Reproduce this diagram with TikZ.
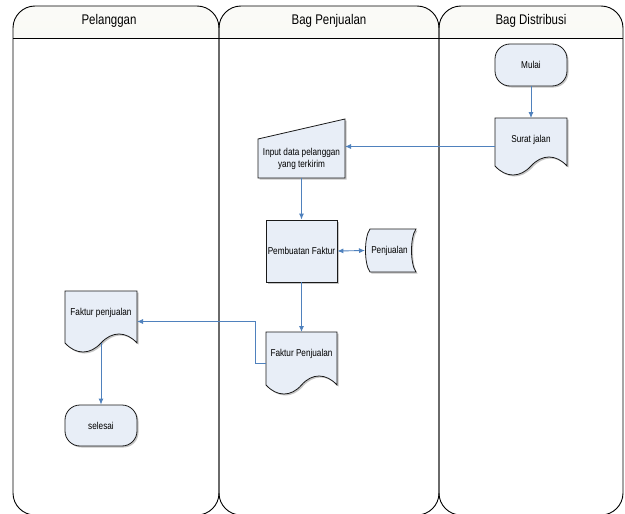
\documentclass[tikz,border=0pt]{standalone}
\usepackage{fontspec}
\setmainfont[FakeStretch=0.82]{Liberation Sans}
\usetikzlibrary{calc,arrows.meta,shadows}

\definecolor{shapefill}{HTML}{E8EEF7}
\definecolor{hdrtop}{HTML}{FAFAF7}
\definecolor{hdrbot}{HTML}{EEF0E6}
\definecolor{connblue}{HTML}{4F81BD}
\definecolor{outline}{HTML}{1A1A1A}

\newcommand\docpath[1]{%
  \path[shp] (#1.north west) -- (#1.north east) -- ($(#1.south east)+(0,-9)$)
    .. controls ($(#1.south east)+(-11,-21)$) and ($(#1.south east)+(-25,-21)$) .. ($(#1.south)+(0,-9)$)
    .. controls ($(#1.south west)+(25,3)$) and ($(#1.south west)+(11,3)$) .. ($(#1.south west)+(0,-9)$)
    -- cycle;}

\begin{document}
\begin{tikzpicture}[x=1pt,y=-1pt,
  lane/.style={draw=black, line width=0.9pt, rounded corners=22},
  hdr/.style={font=\fontsize{14}{16}\selectfont, inner sep=0},
  lbl/.style={font=\fontsize{10}{12}\selectfont, align=center, inner sep=0},
  holder/.style={inner sep=0, outer sep=0},
  shp/.style={draw=outline, line width=0.8pt, fill=shapefill,
    drop shadow={shadow xshift=1.5pt, shadow yshift=-1.5pt, fill=black!45, opacity=0.5}},
  conn/.style={draw=connblue, line width=0.9pt, -{Latex[length=6pt,width=5pt]}},
  conntwo/.style={draw=connblue, line width=0.9pt, {Latex[length=6pt,width=5pt]}-{Latex[length=6pt,width=5pt]}},
]
\useasboundingbox (0,0) rectangle (625,514);
\fill[white] (0,0) rectangle (625,514);

% lane headers
\begin{scope}
  \clip (0,0) rectangle (625,38);
  \shade[top color=hdrtop, bottom color=hdrbot, rounded corners=22] (13,6) rectangle (219,515);
  \shade[top color=hdrtop, bottom color=hdrbot, rounded corners=22] (219,6) rectangle (439,515);
  \shade[top color=hdrtop, bottom color=hdrbot, rounded corners=22] (439,6) rectangle (623,515);
\end{scope}
% lanes
\draw[lane] (13,6) rectangle (219,515);
\draw[lane] (219,6) rectangle (439,515);
\draw[lane] (439,6) rectangle (623,515);
\draw[line width=0.9pt] (13,38) -- (623,38);

\node[hdr] (h1) at (109,21) {Pelanggan};
\node[hdr] (h2) at (329,21) {Bag Penjualan};
\node[hdr] (h3) at (531,21) {Bag Distribusi};

% Mulai
\node[shp, lbl, rounded corners=15, minimum width=72, minimum height=42] (mulai) at (531,65) {Mulai};

% Surat jalan (document)
\node[holder, minimum width=72, minimum height=57] (sj) at (531,146.5) {};
\docpath{sj}
\node[lbl] (sjt) at ($(sj.north)+(0,22)$) {Surat jalan};

% Input data (manual input)
\node[holder, minimum width=87, minimum height=39] (inp) at (301.5,158.5) {};
\path[shp] (inp.south west) -- (inp.north west) -- ($(inp.north east)+(0,-20)$) -- (inp.south east) -- cycle;
\node[lbl] (inpt) at (inp) {Input data pelanggan\\yang terkirim};

% Pembuatan Faktur
\node[shp, lbl, minimum width=71, minimum height=62] (pf) at (301.5,251) {Pembuatan Faktur};

% Penjualan (stored data)
\node[holder, minimum width=51, minimum height=43] (pj) at (390.5,250.5) {};
\path[shp] ($(pj.north west)+(5,0)$) -- (pj.north east)
   .. controls ($(pj.north east)+(-6,8)$) and ($(pj.south east)+(-6,-8)$) .. (pj.south east)
   -- ($(pj.south west)+(5,0)$)
   .. controls ($(pj.south west)+(-1,-8)$) and ($(pj.north west)+(-1,8)$) .. ($(pj.north west)+(5,0)$)
   -- cycle;
\node[lbl] (pjt) at ($(pj)+(-1,0)$) {Penjualan};

% Faktur Penjualan (middle document)
\node[holder, minimum width=71, minimum height=62] (fpm) at (301.5,363) {};
\docpath{fpm}
\node[lbl] (fpmt) at ($(fpm.north)+(0,22)$) {Faktur Penjualan};

% Faktur penjualan (left document)
\node[holder, minimum width=72, minimum height=61] (fpl) at (101,321.5) {};
\docpath{fpl}
\node[lbl] (fplt) at ($(fpl.north)+(0,22)$) {Faktur penjualan};

% selesai
\node[shp, lbl, rounded corners=15, minimum width=72, minimum height=41] (sel) at (101,425.5) {selesai};

% connectors
\draw[conn] (mulai) -- (sj);
\draw[conn] (sj.west) -- (sj.west -| inp.east);
\draw[conn] (inp) -- (pf);
\draw[conntwo] (pf.east) -- (pj.west);
\draw[conn] (pf) -- (fpm);
\draw[conn] (fpm.west) -- ++(-11,0) |- (fpl.east);
\coordinate (fplb) at ($(fpl.south)+(0,-9)$);
\draw[conn] (fplb) -- (sel);
\end{tikzpicture}
\end{document}
